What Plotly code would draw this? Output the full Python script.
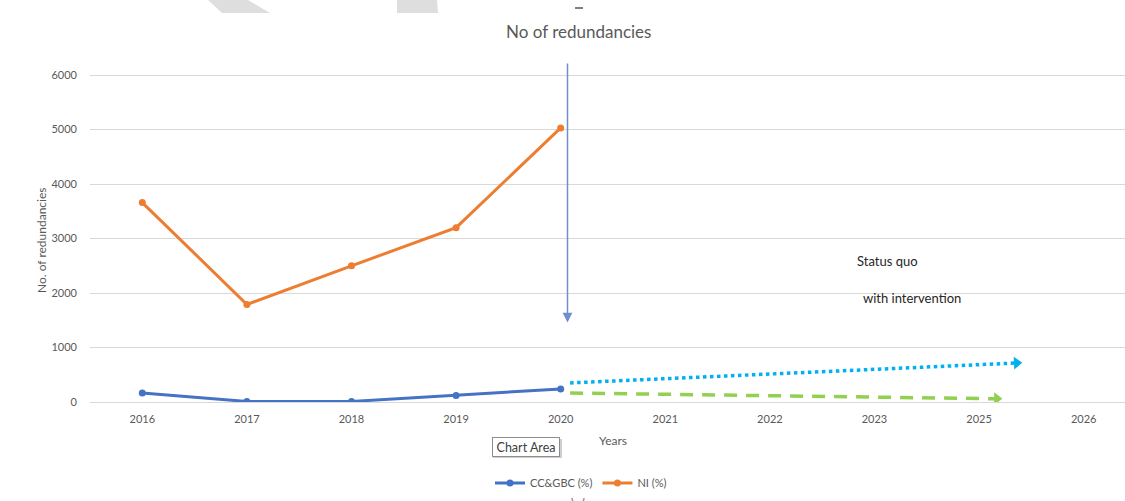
import plotly.graph_objects as go

# Category axis labels (note: the axis skips 2024)
years = ["2016", "2017", "2018", "2019", "2020", "2021", "2022", "2023", "2025", "2026"]
hist_idx = [0, 1, 2, 3, 4]

cc_gbc = [165, 10, 10, 120, 240]
ni = [3660, 1790, 2500, 3200, 5030]

# Projection arrows after 2020 (category positions, values)
status_quo_x = [4.09, 8.36]
status_quo_y = [350, 716]
intervention_x = [4.09, 8.15]
intervention_y = [165, 60]

# Vertical marker arrow at 2020
marker_x = 4.065
marker_top = 6240
marker_bottom = 1460

FONT = "Lato, 'Open Sans', sans-serif"
GREY = "#595959"

W, H = 1125, 501
ML, MR, MT, MB = 90, 0, 74, 99
Y_MAX = 6020  # a little headroom so the 6000 gridline is drawn


def px(x, y):
    """Page pixel -> paper coordinates."""
    return ((x - ML) / (W - ML - MR), (H - MB - y) / (H - MT - MB))


fig = go.Figure()

fig.add_trace(go.Scatter(
    x=hist_idx, y=cc_gbc, name="CC&GBC (%)", mode="lines+markers",
    line=dict(color="#4472c4", width=3), marker=dict(size=7, color="#4472c4"),
))
fig.add_trace(go.Scatter(
    x=hist_idx, y=ni, name="NI (%)", mode="lines+markers",
    line=dict(color="#ed7d31", width=3), marker=dict(size=7, color="#ed7d31"),
))

fig.add_trace(go.Scatter(
    x=status_quo_x, y=status_quo_y, mode="lines", showlegend=False,
    line=dict(color="#00b0f0", width=3.5, dash="dot"), hoverinfo="skip",
))
fig.add_trace(go.Scatter(
    x=[status_quo_x[-1]], y=[status_quo_y[-1]], mode="markers", showlegend=False,
    marker=dict(symbol="triangle-right", size=11, color="#00b0f0", angle=-2.5),
    hoverinfo="skip",
))
fig.add_trace(go.Scatter(
    x=intervention_x, y=intervention_y, mode="lines", showlegend=False,
    line=dict(color="#92d050", width=3.5, dash="13px,9px"), hoverinfo="skip",
))
fig.add_trace(go.Scatter(
    x=[intervention_x[-1] + 0.02], y=[intervention_y[-1]], mode="markers", showlegend=False,
    marker=dict(symbol="triangle-right", size=11, color="#92d050", angle=1),
    hoverinfo="skip",
))


def label(x, y, text, size, color=GREY, **kw):
    xp, yp = px(x, y)
    d = dict(x=xp, y=yp, xref="paper", yref="paper", text=text, showarrow=False,
             xanchor="center", yanchor="middle",
             font=dict(family=FONT, size=size, color=color))
    d.update(kw)
    return d


annotations = [
    dict(x=marker_x, y=marker_bottom, ax=marker_x, ay=marker_top,
         xref="x", yref="y", axref="x", ayref="y", text="",
         showarrow=True, arrowhead=2, arrowsize=1.3, arrowwidth=1.5,
         arrowcolor="#6f8fd0"),
    label(578, 31, "No of redundancies", 17),
    label(613, 440, "Years", 12),
    label(41, 240, "No. of redundancies", 12, textangle=-90),
    label(887, 261, "Status quo", 13, "#262626"),
    label(912, 298, "with intervention", 13, "#262626"),
    label(525.5, 446.5, "Chart Area", 12.5, "#404040", width=62, height=14,
          bgcolor="white", bordercolor="#8c8c8c", borderwidth=1, borderpad=2),
]


def path_from(points):
    pts = [px(x, y) for x, y in points]
    return "M " + " L ".join(f"{a:.5f},{b:.5f}" for a, b in pts) + " Z"


def rect(x0, y0, x1, y1, **kw):
    a0, b0 = px(x0, y1)
    a1, b1 = px(x1, y0)
    d = dict(xref="paper", yref="paper", x0=a0, y0=b0, x1=a1, y1=b1)
    d.update(kw)
    return d


shapes = [
    # light grey fragments along the top edge
    dict(type="path", xref="paper", yref="paper",
         path=path_from([(208, 0), (248, 0), (270, 13), (222, 13)]),
         fillcolor="#dedede", line=dict(width=0), layer="below"),
    dict(type="path", xref="paper", yref="paper",
         path=path_from([(397, 0), (437, 0), (438, 13), (397, 13)]),
         fillcolor="#dedede", line=dict(width=0), layer="below"),
    # small handle marks
    rect(575, 7, 583, 9, type="rect", fillcolor="#7f7f7f", line=dict(width=0)),
    rect(572, 492, 584, 504, type="circle", line=dict(color="#9a9a9a", width=1.5)),
    # drop shadow of the tooltip box
    rect(493, 439, 562, 458, type="rect", fillcolor="#cfcfcf", line=dict(width=0)),
]

lx, ly = px(581, 483)

fig.update_layout(
    width=W, height=H,
    margin=dict(l=ML, r=MR, t=MT, b=MB),
    paper_bgcolor="white", plot_bgcolor="white",
    font=dict(family=FONT, size=11, color=GREY),
    showlegend=True,
    legend=dict(orientation="h", x=lx, xanchor="center", y=ly, yanchor="middle",
                font=dict(family=FONT, size=11, color=GREY), itemwidth=30),
    xaxis=dict(
        range=[-0.5, 9.395], tickmode="array", tickvals=list(range(len(years))),
        ticktext=years, showgrid=False, zeroline=False, showline=False,
        ticks="", ticklabelstandoff=9, tickfont=dict(size=11, color=GREY),
        fixedrange=True,
    ),
    yaxis=dict(
        range=[0, Y_MAX], tickmode="linear", tick0=0, dtick=1000,
        showgrid=True, gridcolor="#d9d9d9", gridwidth=1,
        zeroline=True, zerolinecolor="#d9d9d9", zerolinewidth=1,
        showline=False, ticks="", ticklabelstandoff=12,
        tickfont=dict(size=11, color=GREY), fixedrange=True,
    ),
    annotations=annotations,
    shapes=shapes,
)

fig.write_html("out.html")
